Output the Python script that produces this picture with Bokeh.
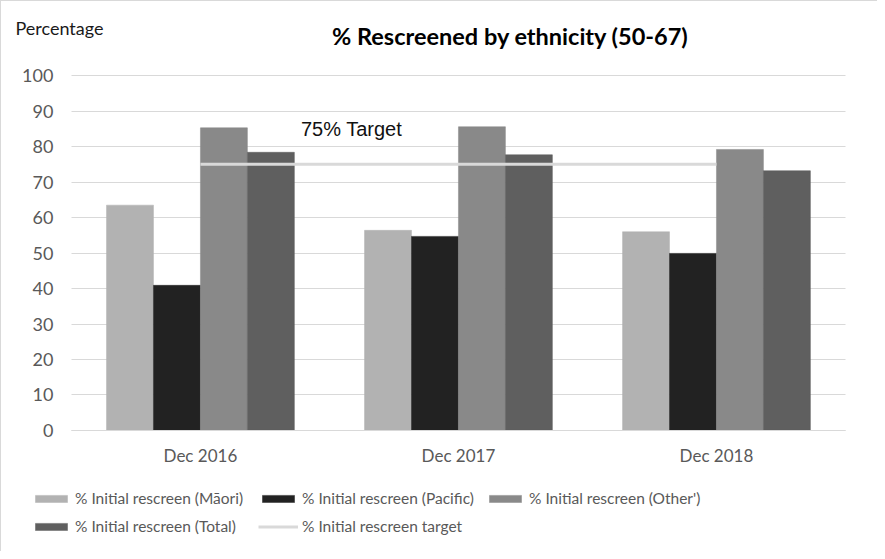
from bokeh.plotting import figure
from bokeh.models import (ColumnDataSource, Legend, LegendItem, Label, FixedTicker,
                          Range1d, LinearAxis, Grid)
from bokeh.transform import dodge
from bokeh.embed import file_html
from bokeh.resources import INLINE

# ---- data ----
periods = ["Dec 2016", "Dec 2017", "Dec 2018"]
maori = [63.5, 56.4, 56.0]
pacific = [40.9, 54.7, 49.9]
other = [85.3, 85.6, 79.2]
total = [78.4, 77.7, 73.2]
target = [75, 75, 75]
y_ticks = [0, 10, 20, 30, 40, 50, 60, 70, 80, 90, 100]
series_labels = ["% Initial rescreen (Māori)", "% Initial rescreen (Pacific)",
                 "% Initial rescreen (Other')", "% Initial rescreen (Total)",
                 "% Initial rescreen target"]
title_text = "% Rescreened by ethnicity (50-67)"
y_title = "Percentage"
target_text = "75% Target"

colors = ["#b2b2b2", "#222222", "#898989", "#5f5f5f"]
target_color = "#d9d9d9"
grid_color = "#d9d9d9"

# category centres 1..n on a numeric axis
xc = list(range(1, len(periods) + 1))
src = ColumnDataSource(dict(xc=xc, maori=maori, pacific=pacific,
                            other=other, total=total, target=target))

# the frame fills the whole canvas; axes sit at fixed locations inside it
p = figure(x_range=Range1d(0.229, 3.628), y_range=Range1d(-34.4, 120.9),
           width=877, height=551, output_backend="svg", toolbar_location=None,
           x_axis_type=None, y_axis_type=None, min_border=0,
           min_border_left=0, min_border_right=0, min_border_top=0,
           min_border_bottom=0)
p.styles = {"border-top": "1px solid #d9d9d9", "border-left": "1px solid #d9d9d9"}
p.outline_line_color = None
p.background_fill_color = "white"
p.border_fill_color = "white"

# gridlines limited to the category span
xlo, xhi = 0.5, len(periods) + 0.5
if "cross_bounds" in Grid.properties():
    g = Grid(dimension=1, ticker=FixedTicker(ticks=y_ticks), cross_bounds=(xlo, xhi),
             grid_line_color=grid_color, grid_line_width=1)
    p.add_layout(g)
else:
    p.segment(x0=[xlo] * len(y_ticks), x1=[xhi] * len(y_ticks), y0=y_ticks, y1=y_ticks,
              line_color=grid_color, line_width=1)

w = 0.182
renderers = []
for i, (col, c) in enumerate(zip(["maori", "pacific", "other", "total"], colors)):
    off = (i - 1.5) * w
    r = p.vbar(x=dodge("xc", off), top=col, width=w, source=src,
               fill_color=c, line_color=c, line_width=0.5)
    renderers.append(r)

rt = p.line(x="xc", y="target", source=src, line_color=target_color, line_width=3)
renderers.append(rt)

# axes
yaxis = LinearAxis(ticker=FixedTicker(ticks=y_ticks), fixed_location=xlo,
                   axis_line_color=None, major_tick_line_color=None,
                   minor_tick_line_color=None, major_tick_out=0, major_tick_in=0,
                   major_label_text_font="Lato", major_label_text_font_size="18px",
                   major_label_text_color="#595959", major_label_standoff=18)
p.add_layout(yaxis, "left")

xaxis = LinearAxis(ticker=FixedTicker(ticks=xc), fixed_location=0, bounds=(xlo, xhi),
                   major_label_overrides={x: lab for x, lab in zip(xc, periods)},
                   axis_line_color=grid_color, major_tick_line_color=None,
                   minor_tick_line_color=None, major_tick_out=0, major_tick_in=0,
                   major_label_text_font="Lato", major_label_text_font_size="17px",
                   major_label_text_color="#595959", major_label_standoff=15)
p.add_layout(xaxis, "below")

# texts (screen units from the frame's bottom-left corner)
p.add_layout(Label(x=509, y=517, x_units="screen", y_units="screen", text=title_text,
                   text_font="Lato", text_font_style="bold", text_font_size="23.5px",
                   text_align="center", text_baseline="middle", text_color="#000000"))
p.add_layout(Label(x=14, y=525, x_units="screen", y_units="screen", text=y_title,
                   text_font="Lato", text_font_size="18px",
                   text_align="left", text_baseline="middle", text_color="#1a1a1a"))
p.add_layout(Label(x=350, y=424, x_units="screen", y_units="screen", text=target_text,
                   text_font="Liberation Sans", text_font_size="20px",
                   text_align="center", text_baseline="middle", text_color="#111111"))

# legend
legend = Legend(items=[LegendItem(label=l, renderers=[r])
                       for l, r in zip(series_labels, renderers)],
                location=(30, 17), orientation="horizontal", ncols=3,
                glyph_width=40, glyph_height=9, label_standoff=4, padding=0,
                margin=0, spacing=10, label_width=173, label_height=18,
                label_text_font="Lato", label_text_font_size="15.5px",
                label_text_color="#595959", border_line_color=None,
                background_fill_alpha=0)
p.add_layout(legend, "center")

open("out.html", "w").write(file_html(p, INLINE))
